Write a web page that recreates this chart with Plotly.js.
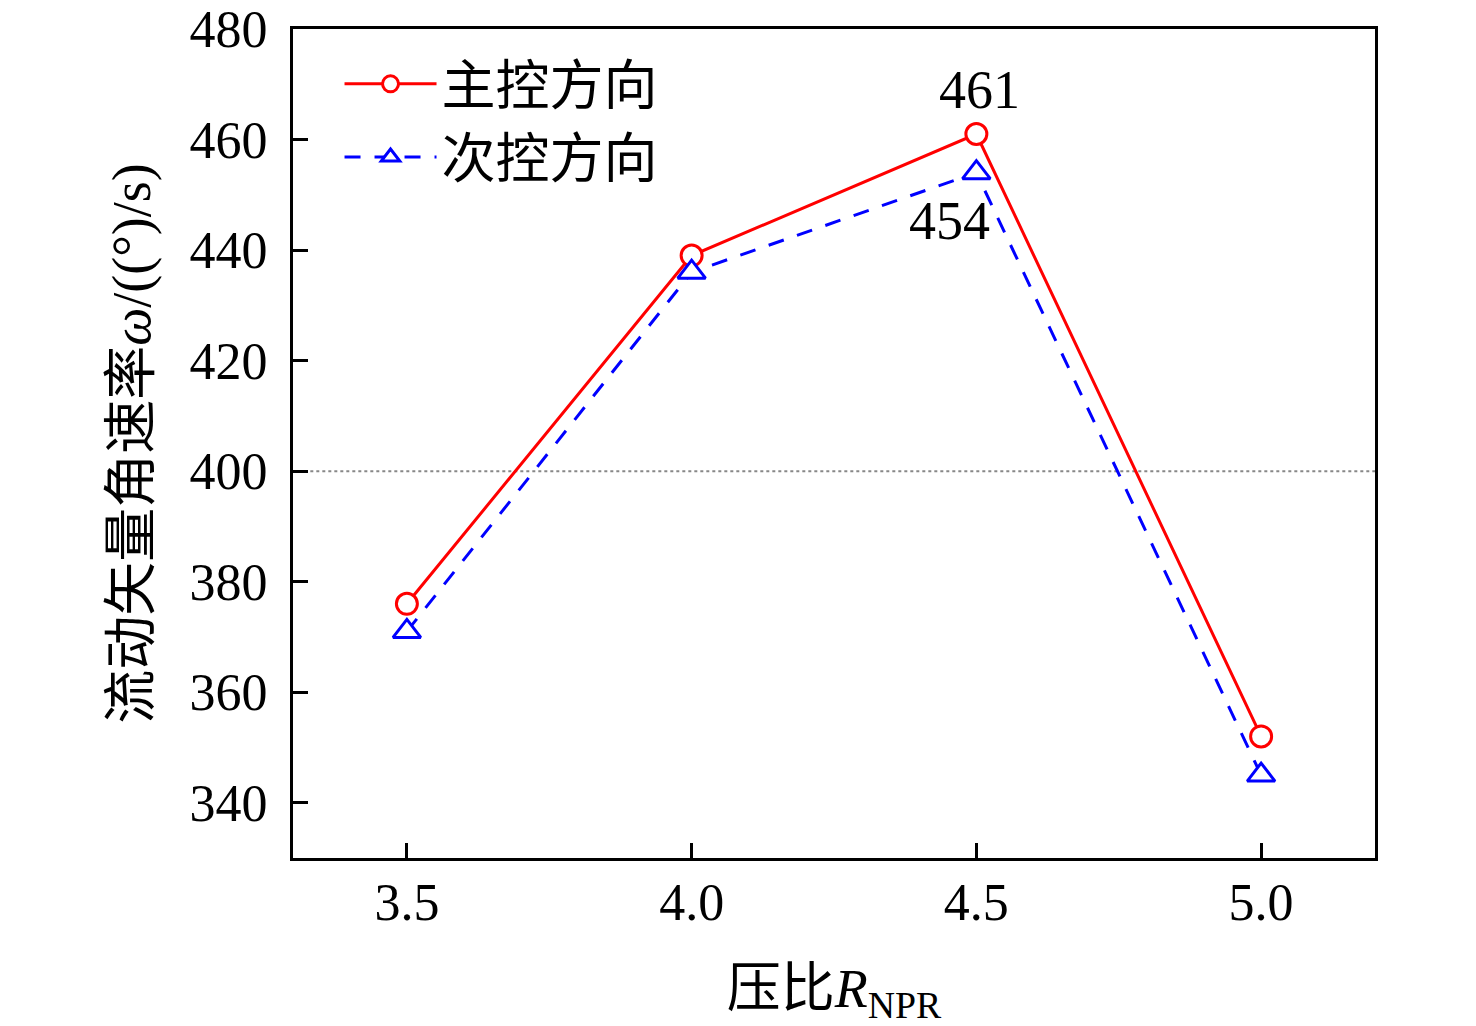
<!DOCTYPE html>
<html>
<head>
<meta charset="utf-8">
<script src="https://cdn.plot.ly/plotly-3.0.1.min.js"></script>
<style>html,body{margin:0;padding:0;background:#fff;}#chart{width:1476px;height:1026px;}</style>
</head>
<body>
<div id="chart"></div>
<script>
var pressureRatio = [3.5, 4.0, 4.5, 5.0];
var mainDirection = [376, 439, 461, 352];
var secondaryDirection = [371, 436, 454, 345];
var seriesNames = ['主控方向', '次控方向'];
var xTickVals = [3.5, 4.0, 4.5, 5.0];
var xTickText = ['3.5', '4.0', '4.5', '5.0'];
var yTickVals = [340, 360, 380, 400, 420, 440, 460, 480];
var refLineValue = 400;

var serif = 'Liberation Serif, Times New Roman, Noto Sans CJK SC, serif';

var traces = [
  {
    x: pressureRatio, y: mainDirection, name: seriesNames[0],
    type: 'scatter', mode: 'lines+markers',
    line: {color: '#ff0000', width: 3},
    marker: {symbol: 'circle', size: 21, color: '#ffffff', line: {color: '#ff0000', width: 3}}
  },
  {
    x: pressureRatio, y: secondaryDirection, name: seriesNames[1],
    type: 'scatter', mode: 'lines+markers',
    line: {color: '#0000ff', width: 3, dash: '16px,14px'},
    marker: {symbol: 'triangle-up', size: 24, color: '#ffffff', line: {color: '#0000ff', width: 3}}
  }
];

var layout = {
  width: 1476, height: 1026,
  margin: {l: 293, r: 101, t: 29, b: 168},
  paper_bgcolor: '#ffffff', plot_bgcolor: '#ffffff',
  font: {family: serif, color: '#000000', size: 50},
  showlegend: true,
  legend: {
    x: 0.043, y: 0.984, xanchor: 'left', yanchor: 'top',
    bgcolor: 'rgba(0,0,0,0)', borderwidth: 0,
    font: {family: serif, size: 54, color: '#000'},
    itemwidth: 92, tracegroupgap: 0
  },
  xaxis: {
    range: [3.3, 5.2],
    tickvals: xTickVals, ticktext: xTickText,
    ticks: 'inside', ticklen: 15, tickwidth: 3, tickcolor: '#000',
    showline: true, linecolor: '#000', linewidth: 3, mirror: true,
    showgrid: false, zeroline: false,
    ticklabelstandoff: -3,
    tickfont: {family: serif, size: 52, color: '#000'},
    title: {text: '压比<i>R</i><sub>NPR</sub>', font: {family: serif, size: 54, color: '#000'}, standoff: 45}
  },
  yaxis: {
    range: [330, 480],
    tickvals: yTickVals,
    ticks: 'inside', ticklen: 15, tickwidth: 3, tickcolor: '#000',
    showline: true, linecolor: '#000', linewidth: 3, mirror: true,
    showgrid: false, zeroline: false,
    ticklabelstandoff: 12,
    tickfont: {family: serif, size: 52, color: '#000'},
    title: {text: '流动矢量角速率<i>ω</i>/((°)/s)', font: {family: serif, size: 54, color: '#000'}, standoff: 22}
  },
  shapes: [
    {type: 'line', xref: 'paper', x0: 0.016, x1: 1, yref: 'y', y0: refLineValue, y1: refLineValue,
     line: {color: '#888888', width: 2, dash: 'dot'}, layer: 'below'}
  ],
  annotations: [
    {x: pressureRatio[2], y: mainDirection[2], xref: 'x', yref: 'y', text: String(mainDirection[2]),
     showarrow: false, xshift: 3, yshift: 44, font: {family: serif, size: 54, color: '#000'}},
    {x: pressureRatio[2], y: secondaryDirection[2], xref: 'x', yref: 'y', text: String(secondaryDirection[2]),
     showarrow: false, xshift: -27, yshift: -48, font: {family: serif, size: 54, color: '#000'}}
  ]
};

Plotly.newPlot('chart', traces, layout, {displayModeBar: false, staticPlot: true});
</script>
</body>
</html>
